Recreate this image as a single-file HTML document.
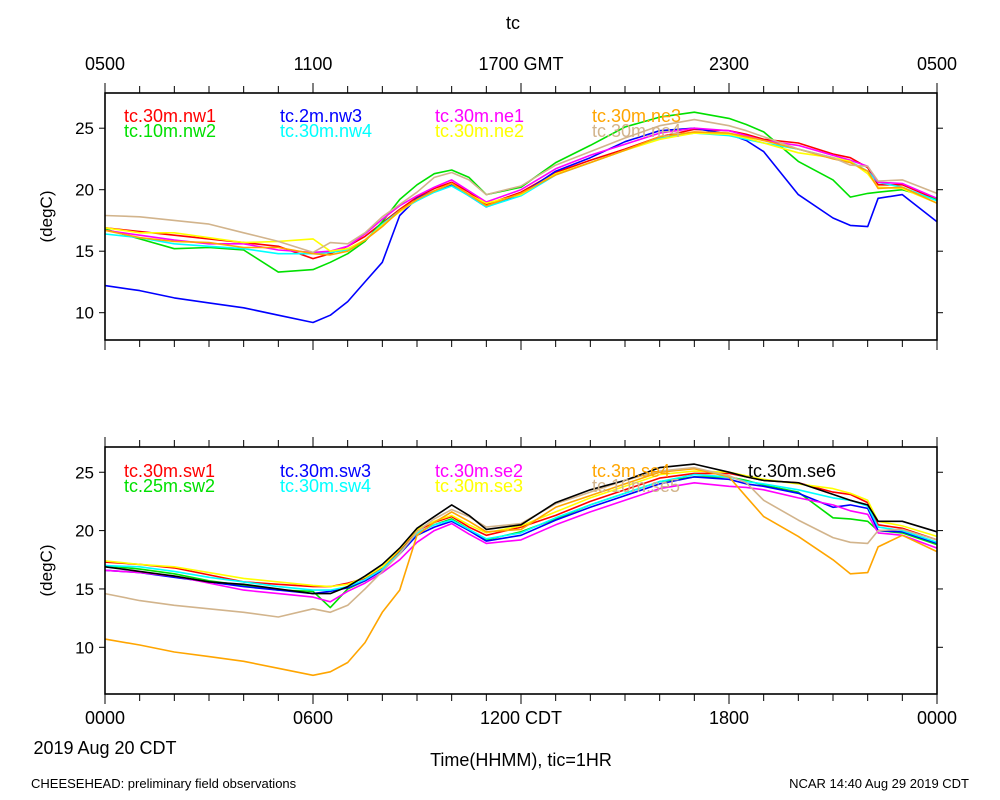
<!DOCTYPE html>
<html><head><meta charset="utf-8"><style>
html,body{margin:0;padding:0;background:#fff;}
svg{display:block;font-family:"Liberation Sans",sans-serif;}
</style></head><body>
<svg id="chart" width="1000" height="800" viewBox="0 0 1000 800"></svg>
<script>
const T = [0,1,2,3,4,5,6,6.5,7,7.5,8,8.5,9,9.5,10,10.5,11,12,13,14,15,16,17,18,18.5,19,20,21,21.5,22,22.3,23,24];
// top panel series
const nw1 = [16.9,16.6,16.3,16.0,15.7,15.4,14.4,14.8,15.4,16.2,17.3,18.4,19.4,20.1,20.6,19.8,18.8,19.8,21.4,22.4,23.3,24.3,24.9,24.8,24.5,24.1,23.8,22.9,22.6,21.8,20.4,20.4,19.2];
const nw2 = [16.8,16.0,15.2,15.3,15.1,13.3,13.5,14.1,14.8,15.8,17.4,19.2,20.4,21.3,21.6,21.0,19.6,20.2,22.2,23.6,25.1,25.9,26.3,25.8,25.3,24.7,22.3,20.8,19.4,19.7,19.8,20.0,19.2];
const nw3 = [12.2,11.8,11.2,10.8,10.4,9.8,9.2,9.8,10.9,12.5,14.1,17.9,19.3,19.9,20.4,19.5,18.6,19.6,21.5,22.6,23.9,24.8,25.0,24.5,24.0,23.1,19.6,17.7,17.1,17.0,19.3,19.6,17.4];
const nw4 = [16.4,16.1,15.6,15.4,15.2,14.8,14.8,14.9,15.1,15.9,17.2,18.3,19.1,19.8,20.3,19.5,18.6,19.5,21.2,22.2,23.2,24.2,24.6,24.4,24.1,23.8,23.3,22.6,22.3,21.5,20.6,20.2,19.1];
const ne1 = [16.7,16.3,15.9,15.6,15.6,15.1,14.9,15.0,15.4,16.4,17.6,18.7,19.5,20.2,20.8,19.9,19.0,20.0,21.7,22.8,23.7,24.6,25.0,24.8,24.4,24.0,23.6,22.8,22.4,21.9,20.6,20.5,19.3];
const ne2 = [16.9,16.5,16.5,16.1,15.7,15.8,16.0,15.0,15.2,15.9,17.1,18.2,19.2,19.9,20.5,19.6,18.9,19.6,21.3,22.2,23.2,24.1,24.6,24.5,24.2,23.8,23.0,22.6,22.3,21.3,20.2,20.1,18.9];
const ne3 = [16.7,16.1,15.8,15.7,15.3,15.3,14.8,14.7,15.0,15.9,17.0,18.3,19.2,19.9,20.5,19.6,18.7,19.7,21.2,22.2,23.2,24.3,24.7,24.6,24.3,24.0,23.3,22.5,22.2,21.5,20.1,20.2,18.9];
const ne4 = [17.9,17.8,17.5,17.2,16.5,15.8,14.9,15.7,15.6,16.5,17.8,18.8,19.8,21.0,21.4,20.8,19.6,20.3,22.0,23.1,24.2,25.2,25.7,25.2,24.8,24.3,23.3,22.6,22.0,21.9,20.7,20.8,19.7];
// bottom panel series
const sw1 = [17.3,17.1,16.8,16.2,15.6,15.4,15.2,15.2,15.5,15.9,16.8,18.3,20.0,20.7,21.2,20.3,19.6,20.3,21.3,22.5,23.5,24.5,24.9,24.9,24.6,24.3,24.1,23.3,23.1,22.4,20.5,20.2,19.2];
const sw2 = [17.0,16.7,16.3,15.7,15.3,14.9,14.8,13.4,15.0,15.7,16.6,18.1,19.8,20.5,21.0,20.1,19.2,19.9,21.0,22.2,23.2,24.2,24.6,24.6,24.3,23.9,23.3,21.1,21.0,20.8,20.0,19.8,18.8];
const sw3 = [16.6,16.4,16.0,15.6,15.2,14.9,14.6,14.8,15.1,15.7,16.6,18.0,19.6,20.3,20.8,20.0,19.1,19.6,20.9,22.0,23.0,24.0,24.6,24.4,24.0,23.8,23.2,22.0,22.2,21.9,20.0,19.9,18.9];
const sw4 = [17.0,16.9,16.5,16.0,15.6,15.2,14.9,14.9,15.2,15.8,16.7,18.1,19.8,20.5,20.9,20.1,19.3,19.8,21.1,22.2,23.2,24.2,24.8,24.6,24.2,24.0,23.5,22.8,22.6,22.1,20.3,20.0,19.0];
const se2 = [16.6,16.4,16.1,15.5,14.9,14.6,14.3,13.9,14.8,15.5,16.4,17.5,19.0,20.0,20.6,19.7,18.9,19.2,20.5,21.6,22.6,23.6,24.1,23.8,23.7,23.5,22.8,22.2,21.7,21.4,19.8,19.6,18.5];
const se3 = [17.4,17.1,16.9,16.4,15.9,15.6,15.3,15.2,15.4,16.0,16.9,18.4,20.1,20.8,21.3,20.5,19.8,20.4,21.6,22.8,23.8,24.8,25.1,25.0,24.7,24.4,24.0,23.6,23.2,22.6,20.8,20.4,19.5];
const se4 = [10.7,10.2,9.6,9.2,8.8,8.2,7.6,7.9,8.7,10.4,13.0,14.9,19.6,20.7,21.6,20.8,19.9,20.1,22.0,23.0,24.0,25.0,25.3,24.6,22.9,21.2,19.5,17.5,16.3,16.4,18.6,19.6,18.2];
const se5 = [14.6,14.0,13.6,13.3,13.0,12.6,13.3,13.0,13.6,15.0,16.5,18.0,19.9,21.0,21.8,21.2,20.3,20.6,22.3,23.3,24.3,25.1,25.4,24.7,24.1,22.6,20.9,19.4,19.0,18.9,20.0,20.1,19.2];
const se6 = [16.9,16.5,16.1,15.6,15.4,15.0,14.6,14.6,15.2,16.1,17.1,18.5,20.2,21.2,22.2,21.3,20.1,20.5,22.4,23.5,24.3,25.4,25.7,25.0,24.6,24.3,24.1,23.1,22.6,22.2,20.8,20.8,19.9];

const topNames = ["tc.30m.nw1","tc.10m.nw2","tc.2m.nw3","tc.30m.nw4","tc.30m.ne1","tc.30m.ne2","tc.30m.ne3","tc.30m.ne4"];
const botNames = ["tc.30m.sw1","tc.25m.sw2","tc.30m.sw3","tc.30m.sw4","tc.30m.se2","tc.30m.se3","tc.3m.se4","tc.10m.se5","tc.30m.se6"];
const yTicks = [10,15,20,25];
const topTickLabels = ["0500","1100","1700 GMT","2300","0500"];
const botTickLabels = ["0000","0600","1200 CDT","1800","0000"];

const NS = "http://www.w3.org/2000/svg";
const svg = document.getElementById("chart");
function mk(tag, attrs, parent){const e=document.createElementNS(NS,tag);for(const k in attrs)e.setAttribute(k,attrs[k]);(parent||svg).appendChild(e);return e;}
const X0=105,X1=937;
const xs = h => X0 + (X1-X0)*h/24;
const panels = [
  {y0:93,y1:340,ref:312.7,ppd:12.3,name:"top",series:[nw1,nw2,nw3,nw4,ne1,ne2,ne3,ne4],names:topNames,dy:0,
   colors:["#ff0000","#00e000","#0000ff","#00ffff","#ff00ff","#ffff00","#ffa500","#d2b48c"]},
  {y0:447,y1:694,ref:647.3,ppd:11.67,name:"bottom",series:[sw1,sw2,sw3,sw4,se2,se3,se4,se5,se6],names:botNames,dy:355,
   colors:["#ff0000","#00e000","#0000ff","#00ffff","#ff00ff","#ffff00","#ffa500","#d2b48c","#000000"]}
];
const legendPos = [[124,122],[124,137],[280,122],[280,137],[435,122],[435,137],[592,122],[592,137],[748,122]];

panels.forEach(p=>{
  const ys = v => p.ref - (v-10)*p.ppd;
  const g = mk("g",{});
  
  
  p.series.forEach((s,i)=>{
    const d = s.map((v,k)=>(k?"L":"M")+xs(T[k]).toFixed(1)+","+ys(v).toFixed(1)).join("");
    const path = mk("path",{d:d,fill:"none",stroke:p.colors[i],"stroke-width":1.6,"stroke-linejoin":"round"},g);
    
    
  });
  p.names.forEach((n,i)=>{
    const t = mk("text",{x:legendPos[i][0],y:legendPos[i][1]+p.dy,fill:p.colors[i],"font-size":18},g);
    t.textContent=n;
    
    
  });
  const box = mk("rect",{x:X0,y:p.y0,width:X1-X0,height:p.y1-p.y0,fill:"none",stroke:"#000","stroke-width":1.6},g);
  
  
  for(let h=0;h<=24;h++){
    const L = h%6===0?10:7;
    mk("line",{x1:xs(h),x2:xs(h),y1:p.y0,y2:p.y0-L,stroke:"#000","stroke-width":1},g);
    mk("line",{x1:xs(h),x2:xs(h),y1:p.y1,y2:p.y1+L,stroke:"#000","stroke-width":1},g);
  }
  yTicks.forEach(v=>{
    mk("line",{x1:X0,x2:X0-6,y1:ys(v),y2:ys(v),stroke:"#000","stroke-width":1},g);
    mk("line",{x1:X1,x2:X1+6,y1:ys(v),y2:ys(v),stroke:"#000","stroke-width":1},g);
    const t = mk("text",{x:X0-11,y:ys(v)+6,"text-anchor":"end","font-size":17},g);
    t.textContent=v;
    
    
  });
  const yt = mk("text",{x:0,y:0,"text-anchor":"middle","font-size":17,transform:`translate(52,${(p.y0+p.y1)/2}) rotate(-90)`},g);
  yt.textContent="(degC)";
  
  
});

topTickLabels.forEach((l,i)=>{
  const t = mk("text",{x:xs(i*6),y:70,"text-anchor":"middle","font-size":18});
  t.textContent=l;
  
  
});
botTickLabels.forEach((l,i)=>{
  const t = mk("text",{x:xs(i*6),y:724,"text-anchor":"middle","font-size":18});
  t.textContent=l;
  
  
});
function txt(s,x,y,fs,anchor,name){
  const t = mk("text",{x:x,y:y,"text-anchor":anchor,"font-size":fs});
  t.textContent=s;
  
  
}
txt("tc",513,29,18,"middle","chart-title");
txt("2019 Aug 20 CDT",105,754,18,"middle","date-label");
txt("Time(HHMM), tic=1HR",521,766,18,"middle","x-axis-title");
txt("CHEESEHEAD: preliminary field observations",31,788,13,"start","footer-left");
txt("NCAR 14:40 Aug 29 2019 CDT",969,788,13,"end","footer-right");
</script>
</body></html>
